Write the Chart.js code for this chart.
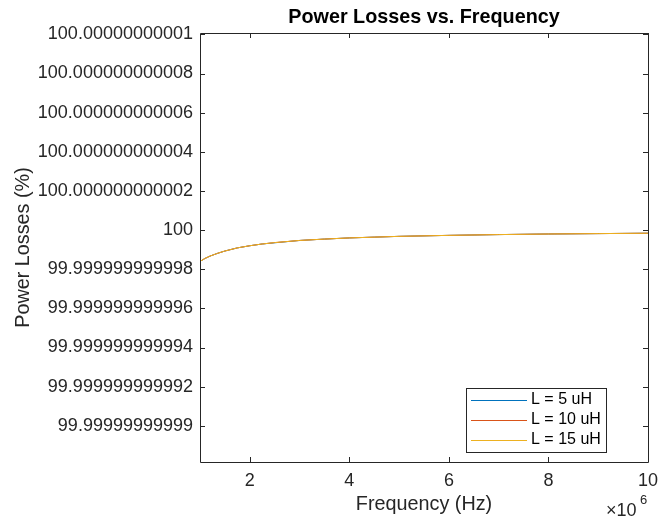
<!DOCTYPE html>
<html>
<head>
<meta charset="utf-8">
<script src="https://cdn.jsdelivr.net/npm/chart.js@4"></script>
<style>
  html, body { margin: 0; padding: 0; background: #fff; }
  #wrap { width: 658px; height: 521px; }
</style>
</head>
<body>
<div id="wrap"><canvas id="lossChart" width="658" height="521"></canvas></div>
<script>
// Frequency sweep (Hz)
const frequencies = [1e6, 1.1e6, 1.2e6, 1.35e6, 1.5e6, 1.75e6, 2e6, 2.25e6, 2.5e6, 3e6, 3.5e6, 4e6, 4.5e6, 5e6, 6e6, 7e6, 8e6, 9e6, 10e6];

// Power losses, stored as offset from 100 % in units of 1e-12 %
const lossL5 = [-1.60, -1.45, -1.33, -1.19, -1.07, -0.91, -0.80, -0.71, -0.65, -0.53, -0.46, -0.40, -0.36, -0.32, -0.27, -0.23, -0.20, -0.18, -0.16];
const lossL10 = [-1.60, -1.45, -1.33, -1.19, -1.07, -0.91, -0.80, -0.71, -0.64, -0.53, -0.46, -0.40, -0.36, -0.32, -0.27, -0.23, -0.20, -0.18, -0.16];
const lossL15 = [-1.60, -1.45, -1.33, -1.19, -1.07, -0.91, -0.80, -0.71, -0.64, -0.53, -0.46, -0.40, -0.36, -0.32, -0.27, -0.23, -0.20, -0.18, -0.16];

// Tick positions and labels
const xTicks = [2e6, 4e6, 6e6, 8e6, 10e6];
const xTickLabels = ['2', '4', '6', '8', '10'];
const yTicks = [10, 8, 6, 4, 2, 0, -2, -4, -6, -8, -10];
const yTickLabels = [
    '100.00000000001', '100.000000000008', '100.000000000006', '100.000000000004', '100.000000000002',
    '100',
    '99.999999999998', '99.999999999996', '99.999999999994', '99.999999999992', '99.99999999999'
];

const FONT = '"Liberation Sans", Arial, sans-serif';
const AXIS_COLOR = '#262626';

function toPoints(vals) {
    return frequencies.map((f, i) => ({ x: f, y: vals[i] }));
}

// Draws box, inward ticks, title, axis labels, exponent and legend
const matlabLook = {
    id: 'matlabLook',
    afterDraw(chart) {
        const ctx = chart.ctx;
        const a = chart.chartArea;
        const xs = chart.scales.x;
        const ys = chart.scales.y;
        const tl = 5;
        ctx.save();
        ctx.strokeStyle = AXIS_COLOR;
        ctx.lineWidth = 1;
        ctx.beginPath();
        ctx.rect(Math.round(a.left) + 0.5, Math.round(a.top) + 0.5, Math.round(a.right - a.left), Math.round(a.bottom - a.top));
        xTicks.forEach(v => {
            const px = Math.round(xs.getPixelForValue(v)) + 0.5;
            ctx.moveTo(px, a.bottom); ctx.lineTo(px, a.bottom - tl);
            ctx.moveTo(px, a.top); ctx.lineTo(px, a.top + tl);
        });
        yTicks.forEach(v => {
            const py = Math.round(ys.getPixelForValue(v)) + 0.5;
            ctx.moveTo(a.left, py); ctx.lineTo(a.left + tl, py);
            ctx.moveTo(a.right, py); ctx.lineTo(a.right - tl, py);
        });
        ctx.stroke();

        const cx = (a.left + a.right) / 2;
        const cy = (a.top + a.bottom) / 2;

        // title
        ctx.fillStyle = '#000';
        ctx.font = 'bold 19.8px ' + FONT;
        ctx.textAlign = 'center';
        ctx.textBaseline = 'middle';
        ctx.fillText('Power Losses vs. Frequency', cx, 18);

        // axis labels
        ctx.fillStyle = AXIS_COLOR;
        ctx.font = '19.8px ' + FONT;
        ctx.fillText('Frequency (Hz)', cx, 505);
        ctx.save();
        ctx.translate(24, cy);
        ctx.rotate(-Math.PI / 2);
        ctx.fillText('Power Losses (%)', 0, 0);
        ctx.restore();

        // exponent
        ctx.font = '18px ' + FONT;
        ctx.textAlign = 'left';
        ctx.fillText('\u00d710', 606, 511);
        ctx.font = '13px ' + FONT;
        ctx.fillText('6', 640, 500);

        // legend
        const lx = 466, ly = 388, lw = 140, lh = 64;
        ctx.fillStyle = '#fff';
        ctx.fillRect(lx, ly, lw, lh);
        ctx.strokeStyle = AXIS_COLOR;
        ctx.strokeRect(lx + 0.5, ly + 0.5, lw, lh);
        ctx.font = '16px ' + FONT;
        ctx.textBaseline = 'middle';
        chart.data.datasets.forEach((ds, i) => {
            const y = ly + 12 + i * 20;
            ctx.strokeStyle = ds.borderColor;
            ctx.beginPath();
            ctx.moveTo(lx + 5, y + 0.5);
            ctx.lineTo(lx + 61, y + 0.5);
            ctx.stroke();
            ctx.fillStyle = '#000';
            ctx.fillText(ds.label, lx + 65, y);
        });
        ctx.restore();
    }
};

new Chart(document.getElementById('lossChart'), {
    type: 'line',
    data: {
        datasets: [
            { label: 'L = 5 uH', data: toPoints(lossL5), borderColor: '#0072BD', order: 3 },
            { label: 'L = 10 uH', data: toPoints(lossL10), borderColor: '#D95319', order: 2 },
            { label: 'L = 15 uH', data: toPoints(lossL15), borderColor: '#EDB120', order: 1 },
        ],
    },
    options: {
        responsive: false,
        animation: false,
        layout: { padding: { top: 33, right: 10, left: 0, bottom: 0 } },
        elements: {
            line: { borderWidth: 1, tension: 0 },
            point: { radius: 0 },
        },
        plugins: {
            legend: { display: false },
            tooltip: { enabled: false },
        },
        scales: {
            x: {
                type: 'linear',
                min: 1e6,
                max: 10e6,
                afterBuildTicks: s => { s.ticks = xTicks.map(v => ({ value: v })); },
                afterFit: s => { s.height = 59; s.paddingLeft = 0; s.paddingRight = 0; },
                grid: { display: false, drawTicks: false },
                border: { display: false },
                ticks: {
                    padding: 8,
                    color: AXIS_COLOR,
                    font: { family: FONT, size: 18 },
                    maxRotation: 0,
                    callback: v => xTickLabels[xTicks.indexOf(v)],
                },
            },
            y: {
                min: -11.85,
                max: 10.07,
                afterBuildTicks: s => { s.ticks = yTicks.map(v => ({ value: v })); },
                afterFit: s => { s.width = 200; s.paddingTop = 0; s.paddingBottom = 0; },
                grid: { display: false, drawTicks: false },
                border: { display: false },
                ticks: {
                    padding: 7,
                    color: AXIS_COLOR,
                    font: { family: FONT, size: 18 },
                    callback: v => yTickLabels[yTicks.indexOf(v)],
                },
            },
        },
    },
    plugins: [matlabLook],
});
</script>
</body>
</html>
